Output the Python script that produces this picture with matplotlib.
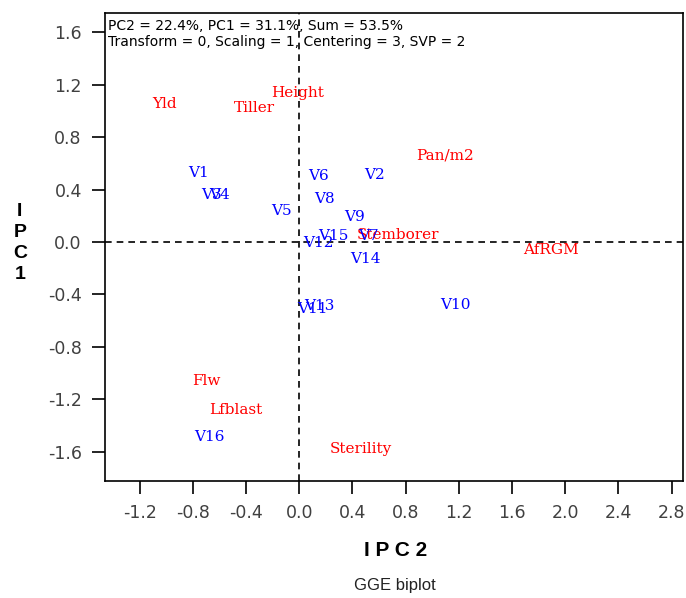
import matplotlib
matplotlib.use("Agg")
import matplotlib.pyplot as plt

# Trait (red) labels and coordinates
traits = ["Yld", "Height", "Tiller", "Pan/m2", "Stemborer", "AfRGM", "Flw", "Lfblast", "Sterility"]
trait_pc2 = [-1.013, -0.01, -0.334, 1.094, 0.74, 1.894, -0.699, -0.476, 0.466]
trait_pc1 = [1.05, 1.135, 1.02, 0.66, 0.05, -0.06, -1.06, -1.28, -1.58]

# Variety (blue) labels and coordinates
varieties = ["V1", "V2", "V3", "V4", "V5", "V6", "V7", "V8", "V9", "V10",
             "V11", "V12", "V13", "V14", "V15", "V16"]
var_pc2 = [-0.76, 0.567, -0.658, -0.598, -0.132, 0.142, 0.517, 0.192, 0.415, 1.175,
           0.101, 0.142, 0.152, 0.496, 0.253, -0.679]
var_pc1 = [0.53, 0.51, 0.36, 0.36, 0.24, 0.50, 0.046, 0.33, 0.19, -0.48,
           -0.51, -0.01, -0.49, -0.13, 0.046, -1.49]

xticks = [-1.2, -0.8, -0.4, 0.0, 0.4, 0.8, 1.2, 1.6, 2.0, 2.4, 2.8]
yticks = [1.6, 1.2, 0.8, 0.4, 0.0, -0.4, -0.8, -1.2, -1.6]

fig = plt.figure(figsize=(6.86, 5.98), dpi=100)
ax = fig.add_axes([0.1526, 0.1957, 0.843, 0.7826])
ax.set_xlim(-1.463, 2.885)
ax.set_ylim(-1.824, 1.748)

ax.axhline(0, color="black", linestyle=(0, (4, 3)), linewidth=1.2, zorder=1)
ax.axvline(0, color="black", linestyle=(0, (4, 3)), linewidth=1.2, zorder=1)

serif = "DejaVu Serif"
for lab, x, y in zip(traits, trait_pc2, trait_pc1):
    ax.text(x, y, lab, color="#ff0000", fontsize=11, family=serif,
            ha="center", va="center", zorder=3)
for lab, x, y in zip(varieties, var_pc2, var_pc1):
    ax.text(x, y, lab, color="#0000ff", fontsize=11, family=serif,
            ha="center", va="center", zorder=3)

ax.text(0.006, 0.988, "PC2 = 22.4%, PC1 = 31.1%, Sum = 53.5%\nTransform = 0, Scaling = 1, Centering = 3, SVP = 2",
        transform=ax.transAxes, ha="left", va="top", fontsize=10,
        family="DejaVu Sans", color="black", linespacing=1.25)

ax.set_xticks(xticks)
ax.set_xticklabels([f"{t:.1f}" for t in xticks])
ax.set_yticks(yticks)
ax.set_yticklabels([f"{t:.1f}" for t in yticks])
ax.tick_params(direction="out", length=9.5, width=1.2, labelsize=12.5,
               labelcolor="#404040", pad=7)
for lab in ax.get_xticklabels() + ax.get_yticklabels():
    lab.set_family("DejaVu Sans")
for sp in ax.spines.values():
    sp.set_linewidth(1.2)

fig.text(0.576, 0.079, "I P C 2", ha="center", va="center", fontsize=15,
         fontweight="bold", family="Liberation Sans")
fig.text(0.029, 0.594, "I\nP\nC\n1", ha="center", va="center", fontsize=14,
         fontweight="bold", family="Liberation Sans", linespacing=1.3)
fig.text(0.576, 0.021, "GGE biplot", ha="center", va="center", fontsize=12,
         family="Liberation Sans", color="#222222")

fig.savefig("out.png", dpi=100, facecolor="white")
